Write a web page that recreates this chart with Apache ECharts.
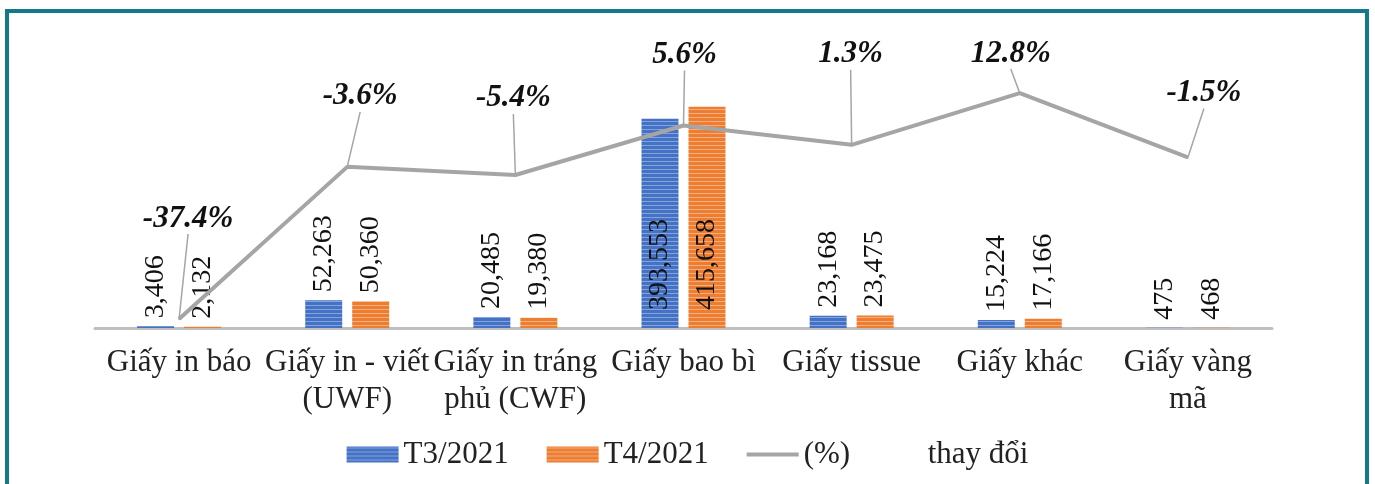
<!DOCTYPE html>
<html lang="vi">

<head>
    <meta charset="UTF-8">
    <title>Giấy T3/2021 - T4/2021</title>
    <script src="https://cdn.jsdelivr.net/npm/echarts@6/dist/echarts.min.js"></script>
    <style>
        body {
            margin: 0;
            background: #fff;
        }

        #chart {
            position: absolute;
            left: 0;
            top: 0;
            width: 1375px;
            height: 484px;
        }

        #frame {
            position: absolute;
            left: 5px;
            top: 9px;
            width: 1356px;
            height: 500px;
            border: 4px solid #13798a;
            pointer-events: none;
        }
    </style>
</head>

<body>
    <div id="chart"></div>
    <div id="frame"></div>

    <script>
        const categories = ['Giấy in báo', 'Giấy in - viết\n(UWF)', 'Giấy in tráng\nphủ (CWF)', 'Giấy bao bì', 'Giấy tissue', 'Giấy khác', 'Giấy vàng\nmã'];
        const t3 = [3406, 52263, 20485, 393553, 23168, 15224, 475];
        const t4 = [2132, 50360, 19380, 415658, 23475, 17166, 468];
        const change = [-37.4, -3.6, -5.4, 5.6, 1.3, 12.8, -1.5];

        // label shifts for the % labels (px)
        const pctShift = [[9, -79], [13, -49], [-2, -55], [1, -49], [-1, -69], [-9, -18], [16, -43]];

        const serif = '"Liberation Serif", "Times New Roman", serif';

        const stripes = (base, light) => {
            const c = document.createElement('canvas');
            c.width = 4;
            c.height = 4;
            const g = c.getContext('2d');
            g.fillStyle = base;
            g.fillRect(0, 0, 4, 4);
            g.fillStyle = light;
            g.fillRect(0, 1, 4, 1);
            return { image: c, repeat: 'repeat' };
        }

        const barData = values => values.map(v => v > 200000
            ? { value: v, label: { position: 'insideBottom', distance: 18 } }
            : v);

        const valueLabel = {
            show: true,
            position: 'top',
            distance: 8,
            rotate: 90,
            align: 'left',
            verticalAlign: 'middle',
            fontFamily: serif,
            fontSize: 28,
            color: '#111',
            formatter: p => p.value.toLocaleString('en-US')
        };

        const chart = echarts.init(document.getElementById('chart'));

        chart.setOption({
            animation: false,
            grid: { left: 95, right: 103, top: 62, bottom: 156 },
            legend: {
                left: 'center',
                top: 434,
                itemWidth: 52,
                itemHeight: 16,
                itemGap: 38,
                textStyle: { fontFamily: serif, fontSize: 31, color: '#222' },
                formatter: name => name === '(%) thay đổi' ? '(%)          thay đổi' : name,
                data: [
                    { name: 'T3/2021', icon: 'rect' },
                    { name: 'T4/2021', icon: 'rect' },
                    { name: '(%) thay đổi', icon: 'path://M0,0H52V4H0Z' }
                ]
            },
            xAxis: {
                type: 'category',
                data: categories,
                axisTick: { show: false },
                axisLine: { lineStyle: { color: '#bfbfbf', width: 3 } },
                axisLabel: {
                    interval: 0,
                    margin: 16,
                    fontFamily: serif,
                    fontSize: 31,
                    lineHeight: 37,
                    color: '#222'
                }
            },
            yAxis: [
                { type: 'value', min: 0, max: 500000, show: false, splitLine: { show: false } },
                { type: 'value', min: -39.4, max: 19.7, show: false, splitLine: { show: false } }
            ],
            series: [
                {
                    name: 'T3/2021',
                    type: 'bar',
                    data: barData(t3),
                    barWidth: 37,
                    barGap: '27%',
                    itemStyle: { color: stripes('#4472c4', '#86a3de') },
                    label: valueLabel
                },
                {
                    name: 'T4/2021',
                    type: 'bar',
                    data: barData(t4),
                    barWidth: 37,
                    itemStyle: { color: stripes('#ed7d31', '#f6ae7c') },
                    label: valueLabel
                },
                {
                    name: '(%) thay đổi',
                    type: 'line',
                    yAxisIndex: 1,
                    data: change,
                    symbol: 'circle',
                    symbolSize: 2,
                    showSymbol: true,
                    z: 5,
                    lineStyle: { color: '#a5a5a5', width: 4 },
                    itemStyle: { color: '#a5a5a5' },
                    label: {
                        show: true,
                        position: 'top',
                        distance: 5,
                        fontFamily: serif,
                        fontSize: 31,
                        fontWeight: 'bold',
                        fontStyle: 'italic',
                        color: '#111',
                        formatter: p => p.value.toFixed(1) + '%'
                    },
                    labelLine: {
                        show: true,
                        length2: 0,
                        lineStyle: { color: '#a5a5a5', width: 1.5 }
                    },
                    labelLayout: p => ({ dx: pctShift[p.dataIndex][0], dy: pctShift[p.dataIndex][1] })
                }
            ]
        });
    </script>
</body>

</html>
